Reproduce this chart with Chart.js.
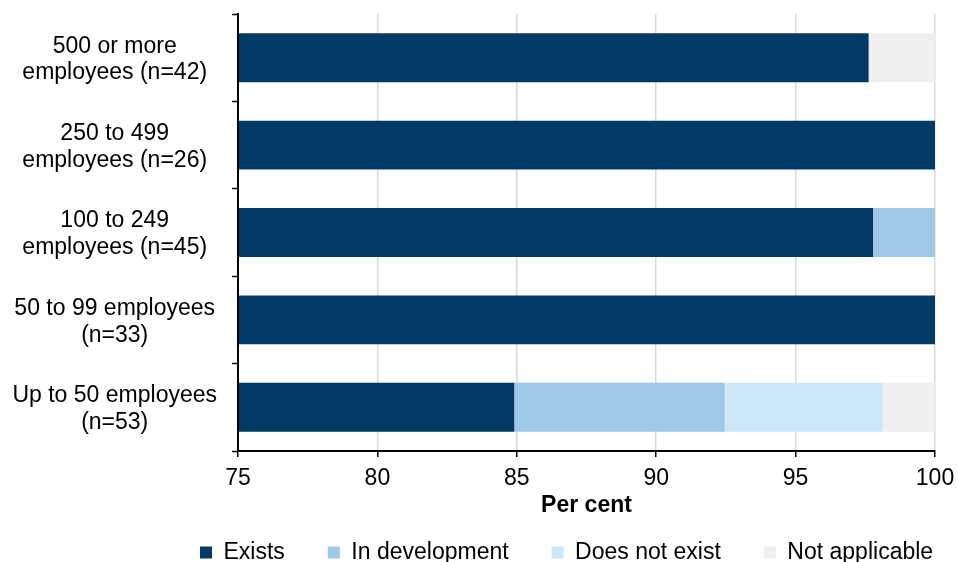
<!DOCTYPE html>
<html>
<head>
<script src="https://cdn.jsdelivr.net/npm/chart.js@4"></script>
<style>
  body {margin: 0; background: #fff;}
  #wrap {width: 958px; height: 562px; overflow: hidden;}
</style>
</head>
<body>
<div id="wrap">
  <canvas id="plan-chart" width="958" height="562"></canvas>
</div>
<script>

// size groups, top to bottom
var groups = [
  ['500 or more', 'employees (n=42)'],
  ['250 to 499', 'employees (n=26)'],
  ['100 to 249', 'employees (n=45)'],
  ['50 to 99 employees', '(n=33)'],
  ['Up to 50 employees', '(n=53)']
];

// per cent of organisations in each group
var exists        = [97.62, 100, 97.78, 100, 84.91];
var inDevelopment = [0, 0, 2.22, 0, 7.55];
var doesNotExist  = [0, 0, 0, 0, 5.66];
var notApplicable = [2.38, 0, 0, 0, 1.89];

var xMin = 75, xMax = 100, xStep = 5;

var font = "'Liberation Sans', Arial, sans-serif";

Chart.defaults.font.family = font;
Chart.defaults.font.size = 23;
Chart.defaults.color = '#000';

//moves the legend row to sit under the plot, the library stacks it too low
var legendPlace = {
  id: 'legendPlace',
  afterLayout: function(chart) {
    var lg = chart.legend;
    if (!lg || !lg.lineWidths) return;
    var pad = lg.options.labels.padding;
    var start = (lg.left + pad + lg.right - lg.lineWidths[0]) / 2;
    var dx = 200 - start;
    lg.left += dx;
    lg.right += dx;
    lg.width = lg.right - lg.left;
    lg.top = 498;
    lg.height = 80;
    lg.bottom = lg.top + lg.height;
  }
};

function series(label, values, colour) {
  return {
    label: label,
    data: values,
    backgroundColor: colour,
    borderWidth: 0,
    clip: 0,
    barPercentage: 0.56,
    categoryPercentage: 1
  };
}

new Chart(document.getElementById('plan-chart'), {
  type: 'bar',
  data: {
    labels: groups,
    datasets: [
      series('Exists', exists, '#023a66'),
      series('In development', inDevelopment, '#9dc8e8'),
      series('Does not exist', doesNotExist, '#cce8f8'),
      series('Not applicable', notApplicable, '#f0f0f0')
    ]
  },
  plugins: [legendPlace],
  options: {
    indexAxis: 'y',
    responsive: false,
    animation: false,
    layout: {
      padding: {left: 0, right: 23, top: 14, bottom: 0}
    },
    plugins: {
      tooltip: {enabled: false},
      legend: {
        position: 'bottom',
        maxHeight: 43,
        labels: {
          boxWidth: 12,
          boxHeight: 12,
          padding: 43,
          color: '#000',
          font: {size: 23}
        }
      }
    },
    scales: {
      x: {
        stacked: true,
        min: xMin,
        max: xMax,
        afterFit: function(scale) {
          scale.height = 68;
          scale.paddingLeft = 0;
          scale.paddingRight = 0;
        },
        ticks: {
          stepSize: xStep,
          padding: 8,
          color: '#000',
          font: {size: 23}
        },
        grid: {
          color: '#d9d9d9',
          lineWidth: 1.5,
          tickColor: '#000',
          tickLength: 6,
          tickWidth: 1.5
        },
        border: {color: '#000', width: 2, z: 1},
        title: {
          display: true,
          text: 'Per cent',
          color: '#000',
          padding: {top: 0, bottom: 0},
          font: {size: 23, weight: 'bold', lineHeight: 1.17}
        }
      },
      y: {
        stacked: true,
        afterFit: function(scale) {
          scale.width = 238;
          scale.paddingTop = 0;
          scale.paddingBottom = 0;
        },
        ticks: {
          crossAlign: 'center',
          padding: 15,
          labelOffset: 2,
          color: '#000',
          font: {size: 23, lineHeight: 1.17}
        },
        grid: {
          offset: true,
          drawOnChartArea: false,
          tickColor: '#000',
          tickLength: 6,
          tickWidth: 1.5
        },
        border: {color: '#000', width: 2, z: 1}
      }
    }
  }
});

</script>
</body>
</html>
